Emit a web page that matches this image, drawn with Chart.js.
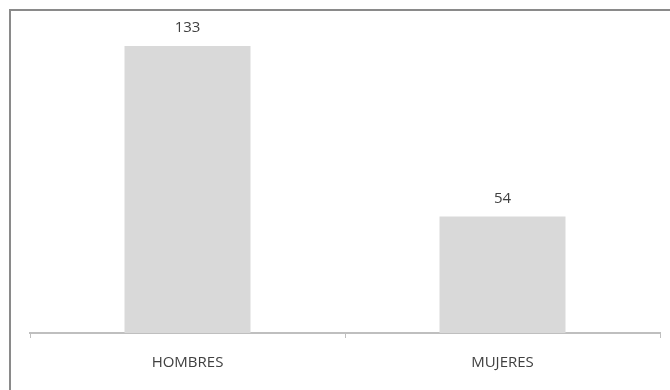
<!DOCTYPE html>
<html>
<head>
<meta charset="utf-8">
<script src="https://cdn.jsdelivr.net/npm/chart.js@4"></script>
<style>
  html, body { margin: 0; padding: 0; background: #fff; }
  #wrap { position: relative; width: 670px; height: 390px; overflow: hidden; }
  #frame { position: absolute; left: 9px; top: 9px; width: 700px; height: 420px;
           border-left: 2px solid #8a8a8a; border-top: 2px solid #8a8a8a; }
  canvas { position: absolute; left: 0; top: 0; }
</style>
</head>
<body>
<div id="wrap">
  <div id="frame"></div>
  <canvas id="chart" width="670" height="390"></canvas>
</div>
<script>
// data
const categories = ['HOMBRES', 'MUJERES'];
const values = [133, 54];
const yMax = 140;

// value labels above each bar
const valueLabels = {
    id: 'valueLabels',
    afterDatasetsDraw(chart) {
        const ctx = chart.ctx;
        const meta = chart.getDatasetMeta(0);
        ctx.save();
        ctx.font = '15px "Open Sans", sans-serif';
        ctx.fillStyle = '#404040';
        ctx.textAlign = 'center';
        ctx.textBaseline = 'middle';
        meta.data.forEach((bar, i) => {
            ctx.fillText(values[i], bar.x, bar.y - 18);
        });
        ctx.restore();
    }
};

new Chart(document.getElementById('chart'), {
    type: 'bar',
    data: {
        labels: categories,
        datasets: [{
            data: values,
            backgroundColor: '#d9d9d9',
            borderWidth: 0,
            categoryPercentage: 1,
            barPercentage: 0.4
        }]
    },
    options: {
        responsive: false,
        animation: false,
        layout: { padding: { left: 30, right: 10, top: 31, bottom: 2 } },
        scales: {
            y: { display: false, min: 0, max: yMax },
            x: {
                offset: true,
                border: { display: true, color: '#bfbfbf', width: 2 },
                grid: { display: true, drawOnChartArea: false, offset: true, tickLength: 5, color: '#bfbfbf' },
                ticks: { color: '#404040', padding: 16, font: { family: '"Open Sans", sans-serif', size: 15 } }
            }
        },
        plugins: { legend: { display: false }, tooltip: { enabled: false } }
    },
    plugins: [valueLabels]
});
</script>
</body>
</html>
